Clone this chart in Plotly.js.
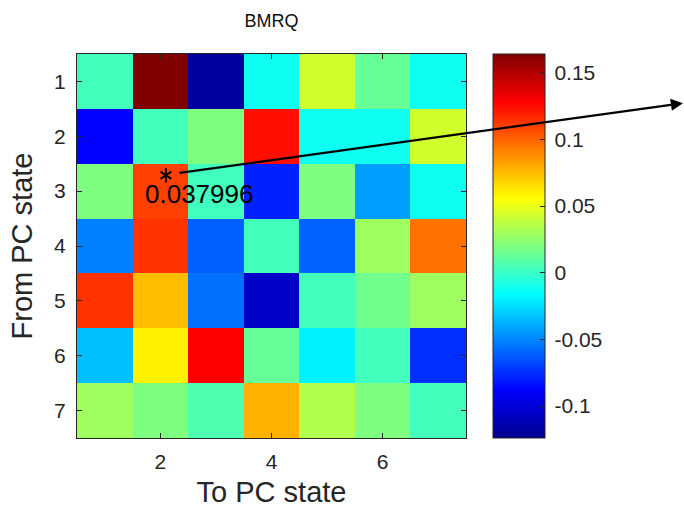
<!DOCTYPE html>
<html>
<head>
<meta charset="utf-8">
<script src="https://cdn.plot.ly/plotly-3.0.1.min.js"></script>
<style>html,body{margin:0;padding:0;background:#fff;}#chart{width:684px;height:509px;}</style>
</head>
<body>
<div id="chart"></div>
<script>
// Data
const toStates = [1, 2, 3, 4, 5, 6, 7];
const fromStates = [1, 2, 3, 4, 5, 6, 7];
const row1 = [0.003, 0.164, -0.118, -0.012, 0.043, 0.013, -0.012];
const row2 = [-0.088, 0.003, 0.020, 0.124, -0.012, -0.012, 0.043];
const row3 = [0.020, 0.110, 0.002, -0.079, 0.020, -0.043, -0.012];
const row4 = [-0.052, 0.114, -0.061, 0.003, -0.060, 0.029, 0.096];
const row5 = [0.114, 0.074, -0.056, -0.106, 0.003, 0.016, 0.029];
const row6 = [-0.034, 0.060, 0.128, 0.013, -0.020, 0.003, -0.075];
const row7 = [0.029, 0.020, 0.006, 0.078, 0.034, 0.020, 0.003];
const markX = [2.10];
const markY = [2.71];
const labelText = "0.037996";
const labelX = 2.69;
const labelY = 3.05;
const xTicks = [2, 4, 6];
const yTicks = [1, 2, 3, 4, 5, 6, 7];
const cbTicks = [-0.1, -0.05, 0, 0.05, 0.1, 0.15];
const cbTickText = ["-0.1", "-0.05", "0", "0.05", "0.1", "0.15"];
const zMin = -0.124, zMax = 0.164;

const jet = [
  [0, 'rgb(0,0,140)'], [0.125, 'rgb(0,0,255)'], [0.375, 'rgb(0,255,255)'],
  [0.625, 'rgb(255,255,0)'], [0.875, 'rgb(255,0,0)'], [1, 'rgb(128,0,0)']
];
const ink = '#262626';
const fnt = 'Liberation Sans, Arial, Helvetica, sans-serif';

function starPart(sym) {
  return {
    type: 'scatter', mode: 'markers', x: markX, y: markY,
    marker: {symbol: sym, size: 9, color: '#000', line: {color: '#000', width: 2}},
    hoverinfo: 'none', showlegend: false
  };
}

const traces = [
  {
    type: 'heatmap',
    x: toStates, y: fromStates,
    z: [row1, row2, row3, row4, row5, row6, row7],
    zmin: zMin, zmax: zMax,
    colorscale: jet,
    hoverinfo: 'none',
    colorbar: {
      x: 1.069, xanchor: 'left', y: 0.5, yanchor: 'middle',
      thickness: 52, thicknessmode: 'pixels',
      len: 384, lenmode: 'pixels',
      xpad: 0, ypad: 0,
      outlinewidth: 1, outlinecolor: ink,
      ticks: 'inside', ticklen: 5, tickcolor: ink,
      tickvals: cbTicks, ticktext: cbTickText.map(t => '\u2009' + t),
      tickfont: {family: fnt, size: 21, color: ink}
    }
  },
  starPart('y-up-open'),
  starPart('y-down-open')
];

const layout = {
  width: 684, height: 509,
  margin: {l: 77, r: 218, t: 54, b: 71},
  paper_bgcolor: '#fff', plot_bgcolor: '#fff',
  showlegend: false,
  title: {text: 'BMRQ', x: 0.397, xanchor: 'center', y: 0.96, yanchor: 'middle',
          font: {family: fnt, size: 18, color: '#111'}},
  xaxis: {
    range: [0.5, 7.5], tickvals: xTicks, ticks: 'inside', ticklen: 5, tickcolor: ink,
    showline: true, linecolor: ink, linewidth: 1, mirror: 'ticks', showgrid: false, zeroline: false,
    tickfont: {family: fnt, size: 21, color: ink}, ticklabelstandoff: 5,
    title: {text: 'To PC state', font: {family: fnt, size: 29, color: ink}, standoff: 9}
  },
  yaxis: {
    range: [7.5, 0.5], tickvals: yTicks, ticks: 'inside', ticklen: 5, tickcolor: ink,
    showline: true, linecolor: ink, linewidth: 1, mirror: 'ticks', showgrid: false, zeroline: false,
    tickfont: {family: fnt, size: 21, color: ink}, ticklabelstandoff: 6,
    title: {text: 'From PC state', font: {family: fnt, size: 29, color: ink}, standoff: 12}
  },
  annotations: [
    {
      xref: 'x', yref: 'y', x: labelX, y: labelY, text: labelText, showarrow: false,
      font: {family: fnt, size: 26, color: '#000'}, xanchor: 'center', yanchor: 'middle'
    },
    {
      xref: 'paper', yref: 'paper', x: 1.558, y: 0.872, text: '',
      showarrow: true, axref: 'pixel', ayref: 'pixel', ax: -505, ay: 70,
      arrowhead: 2, arrowsize: 1.1, arrowwidth: 2.2, arrowcolor: '#000', standoff: 0, startstandoff: 0
    }
  ]
};

Plotly.newPlot('chart', traces, layout, {staticPlot: true, displayModeBar: false});
</script>
</body>
</html>
